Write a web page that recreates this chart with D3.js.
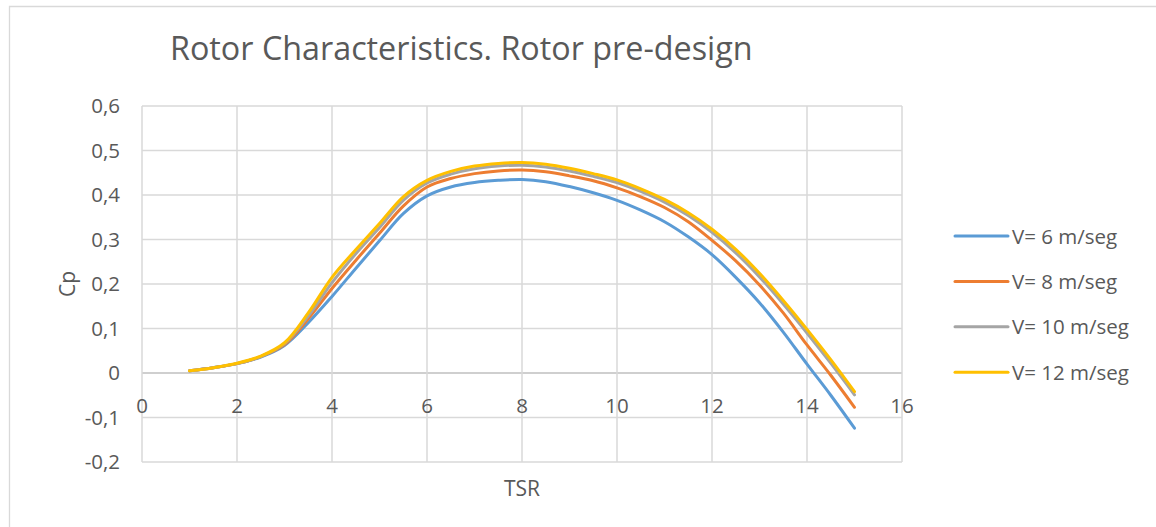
<!DOCTYPE html>
<html>
<head>
<meta charset="utf-8">
<script src="https://cdn.jsdelivr.net/npm/d3@7"></script>
<style>
    body { margin: 0; background: #fff; }
    text { font-family: "Open Sans", Lato, sans-serif; fill: #595959; }
</style>
</head>
<body>
<div id="chart"></div>
<script>
// TSR values (x)
const tsr = [1, 1.5, 2, 2.5, 3, 3.5, 4, 4.5, 5, 5.5, 6, 6.5, 7, 7.5, 8,
             8.5, 9, 9.5, 10, 10.5, 11, 11.5, 12, 12.5, 13, 13.5, 14, 14.5, 15];

// Cp per wind speed
const cpV6 = [0.005, 0.012, 0.021, 0.036, 0.062, 0.113, 0.172, 0.235, 0.297, 0.358, 0.398, 0.418, 0.428, 0.433, 0.435,
              0.43, 0.419, 0.405, 0.388, 0.366, 0.34, 0.306, 0.266, 0.215, 0.158, 0.092, 0.02, -0.05, -0.124];
const cpV8 = [0.005, 0.012, 0.021, 0.037, 0.064, 0.122, 0.19, 0.253, 0.314, 0.375, 0.418, 0.437, 0.448, 0.454, 0.456,
              0.452, 0.443, 0.432, 0.416, 0.396, 0.372, 0.34, 0.298, 0.252, 0.198, 0.135, 0.063, -0.005, -0.077];
const cpV10 = [0.005, 0.012, 0.021, 0.037, 0.066, 0.128, 0.203, 0.268, 0.327, 0.388, 0.427, 0.447, 0.459, 0.465, 0.467,
               0.463, 0.454, 0.442, 0.428, 0.408, 0.384, 0.354, 0.316, 0.27, 0.216, 0.155, 0.09, 0.022, -0.049];
const cpV12 = [0.005, 0.012, 0.022, 0.038, 0.068, 0.135, 0.215, 0.277, 0.336, 0.396, 0.433, 0.453, 0.465, 0.471, 0.473,
               0.469, 0.46, 0.448, 0.434, 0.414, 0.39, 0.36, 0.323, 0.278, 0.224, 0.163, 0.098, 0.03, -0.042];

const seriesNames = ["V= 6 m/seg", "V= 8 m/seg", "V= 10 m/seg", "V= 12 m/seg"];
const seriesColors = ["#5b9bd5", "#ed7d31", "#a5a5a5", "#ffc000"];

const xTicks = [0, 2, 4, 6, 8, 10, 12, 14, 16];
const yTicks = [-0.2, -0.1, 0, 0.1, 0.2, 0.3, 0.4, 0.5, 0.6];

function init() {
    const w = 1156;
    const h = 527;
    const plot = { left: 142, right: 902, top: 106, bottom: 462 };

    const svg = d3.select("#chart")
        .append("svg")
        .attr("width", w)
        .attr("height", h);

    // chart border (only left/top visible in the frame)
    svg.append("path")
        .attr("d", "M9.5,527 V6.5 H1156")
        .attr("fill", "none")
        .attr("stroke", "#d9d9d9")
        .attr("stroke-width", 1.3);

    const x = d3.scaleLinear().domain([0, 16]).range([plot.left, plot.right]);
    const y = d3.scaleLinear().domain([-0.2, 0.6]).range([plot.bottom, plot.top]);

    // gridlines
    svg.append("g")
        .selectAll("line")
        .data(yTicks)
        .enter()
        .append("line")
        .attr("x1", plot.left).attr("x2", plot.right)
        .attr("y1", d => y(d)).attr("y2", d => y(d))
        .attr("stroke", d => d === 0 ? "#bfbfbf" : "#d9d9d9")
        .attr("stroke-width", 1.5);

    svg.append("g")
        .selectAll("line")
        .data(xTicks)
        .enter()
        .append("line")
        .attr("x1", d => x(d)).attr("x2", d => x(d))
        .attr("y1", plot.top).attr("y2", plot.bottom)
        .attr("stroke", "#d9d9d9")
        .attr("stroke-width", 1.5);

    // y tick labels
    svg.selectAll("text.ylab")
        .data(yTicks)
        .enter()
        .append("text")
        .attr("class", "ylab")
        .text(d => d3.format(".1f")(d).replace(".", ",").replace("0,0", "0").replace("−", "-"))
        .attr("x", 120)
        .attr("y", d => y(d) + 7)
        .attr("text-anchor", "end")
        .attr("font-size", "20.5px");

    // x tick labels (below the zero line)
    svg.selectAll("text.xlab")
        .data(xTicks)
        .enter()
        .append("text")
        .attr("class", "xlab")
        .text(d => d)
        .attr("x", d => x(d))
        .attr("y", y(0) + 40)
        .attr("text-anchor", "middle")
        .attr("font-size", "20.5px");

    // series lines
    const allSeries = [cpV6, cpV8, cpV10, cpV12];
    const line = d3.line()
        .x((d, i) => x(tsr[i]))
        .y(d => y(d))
        .curve(d3.curveCatmullRom.alpha(0.5));

    svg.append("g")
        .selectAll("path")
        .data(allSeries)
        .enter()
        .append("path")
        .attr("d", line)
        .attr("fill", "none")
        .attr("stroke", (d, i) => seriesColors[i])
        .attr("stroke-width", 3)
        .attr("stroke-linecap", "round");

    // title
    svg.append("text")
        .text("Rotor Characteristics. Rotor pre-design")
        .attr("x", 170)
        .attr("y", 60)
        .attr("font-size", "32.3px");

    // axis titles
    svg.append("text")
        .text("Cp")
        .attr("transform", "translate(75,284) rotate(-90)")
        .attr("text-anchor", "middle")
        .attr("font-size", "21px");

    svg.append("text")
        .text("TSR")
        .attr("x", 522)
        .attr("y", 496)
        .attr("text-anchor", "middle")
        .attr("font-size", "21px");

    // legend
    const legend = svg.append("g")
        .selectAll("g")
        .data(seriesNames)
        .enter()
        .append("g")
        .attr("transform", (d, i) => `translate(955,${236 + i * 45.4})`);

    legend.append("line")
        .attr("x1", 0).attr("x2", 53)
        .attr("stroke", (d, i) => seriesColors[i])
        .attr("stroke-width", 3)
        .attr("stroke-linecap", "round");

    legend.append("text")
        .text(d => d)
        .attr("x", 57)
        .attr("y", 7.5)
        .attr("font-size", "20.5px");
}

window.onload = init;
</script>
</body>
</html>
